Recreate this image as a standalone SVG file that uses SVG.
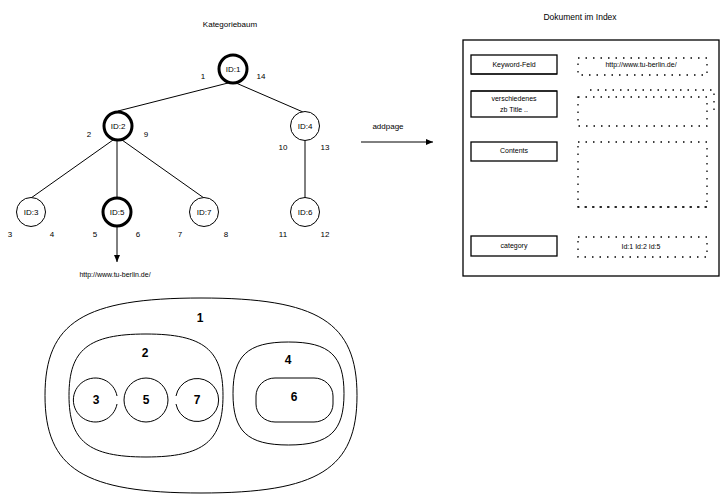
<svg xmlns="http://www.w3.org/2000/svg" width="723" height="497" viewBox="0 0 723 497">
<style>
text{font-family:"Liberation Sans",Arial,sans-serif;fill:#000}
.s{font-size:8px}
.t{font-size:7px}
.n{font-size:12px;font-weight:bold}
.thin{fill:#fff;stroke:#000;stroke-width:1}
.thick{fill:#fff;stroke:#000;stroke-width:3}
.line{stroke:#000;stroke-width:1;fill:none}
.dot{fill:none;stroke:#000;stroke-width:1.3;stroke-dasharray:1.5 6}
.box{fill:#fff;stroke:#000;stroke-width:1.3}
.shape{fill:none;stroke:#000;stroke-width:1}
</style>
<defs>
<marker id="ah" markerWidth="8" markerHeight="8" refX="7" refY="4" orient="auto" markerUnits="userSpaceOnUse">
<path d="M0,1 L7,4 L0,7 Z" fill="#000"/>
</marker>
</defs>
<rect width="723" height="497" fill="#fff"/>

<text class="s" x="230" y="27" text-anchor="middle">Kategoriebaum</text>

<g id="connectors">
<line class="line" x1="228" y1="83" x2="118" y2="111"/>
<line class="line" x1="236" y1="83" x2="303" y2="112"/>
<line class="line" x1="113" y1="140" x2="31" y2="198"/>
<line class="line" x1="117" y1="141" x2="117" y2="198" stroke-width="2"/>
<line class="line" x1="122" y1="140" x2="204" y2="198"/>
<line class="line" x1="305" y1="141" x2="305" y2="198"/>
<line class="line" x1="117" y1="227" x2="117" y2="262" stroke-width="1.5" marker-end="url(#ah)"/>
<line class="line" x1="361" y1="142" x2="433" y2="142" stroke-width="1.3" marker-end="url(#ah)"/>
</g>

<g id="n1"><circle class="thick" cx="233" cy="69" r="14"/><text class="s" x="233" y="72" text-anchor="middle">ID:1</text>
<text class="s" x="203" y="79" text-anchor="middle">1</text><text class="s" x="261" y="79" text-anchor="middle">14</text></g>
<g id="n2"><circle class="thick" cx="118" cy="126" r="14"/><text class="s" x="118" y="129" text-anchor="middle">ID:2</text>
<text class="s" x="89" y="137" text-anchor="middle">2</text><text class="s" x="146" y="137" text-anchor="middle">9</text></g>
<g id="n4"><circle class="thin" cx="305" cy="126" r="14.5"/><text class="s" x="305" y="129" text-anchor="middle">ID:4</text>
<text class="s" x="283" y="150" text-anchor="middle">10</text><text class="s" x="325" y="150" text-anchor="middle">13</text></g>
<g id="n3"><circle class="thin" cx="31" cy="212" r="14.5"/><text class="s" x="31" y="215" text-anchor="middle">ID:3</text>
<text class="s" x="10" y="237" text-anchor="middle">3</text><text class="s" x="52" y="237" text-anchor="middle">4</text></g>
<g id="n5"><circle class="thick" cx="117" cy="212" r="14"/><text class="s" x="117" y="215" text-anchor="middle">ID:5</text>
<text class="s" x="95" y="237" text-anchor="middle">5</text><text class="s" x="138" y="237" text-anchor="middle">6</text></g>
<g id="n7"><circle class="thin" cx="204" cy="212" r="14.5"/><text class="s" x="204" y="215" text-anchor="middle">ID:7</text>
<text class="s" x="180" y="237" text-anchor="middle">7</text><text class="s" x="226" y="237" text-anchor="middle">8</text></g>
<g id="n6"><circle class="thin" cx="305" cy="212" r="14.5"/><text class="s" x="305" y="215" text-anchor="middle">ID:6</text>
<text class="s" x="283" y="237" text-anchor="middle">11</text><text class="s" x="325" y="237" text-anchor="middle">12</text></g>
<text class="t" x="115" y="277" text-anchor="middle">http://www.tu-berlin.de/</text>

<text class="s" x="388" y="129" text-anchor="middle">addpage</text>

<g id="index">
<text class="s" x="580" y="20" text-anchor="middle" style="font-size:8.5px">Dokument im Index</text>
<rect class="box" x="463" y="40" width="256" height="236"/>
<g id="keyword"><rect class="box" x="471" y="55" width="86" height="19"/><line class="line" x1="471" y1="74" x2="557" y2="74" stroke-width="2"/>
<text class="t" x="514" y="67" text-anchor="middle">Keyword-Feld</text></g>
<g id="keywordval"><rect class="dot" x="578" y="58" width="129" height="17"/>
<text class="t" x="641" y="67" text-anchor="middle">http://www.tu-berlin.de/</text></g>
<g id="verschieden"><rect class="box" x="471" y="91" width="86" height="26"/><line class="line" x1="471" y1="91" x2="557" y2="91" stroke-width="2"/>
<text class="t" x="514" y="101" text-anchor="middle">verschiedenes</text>
<text class="t" x="514" y="112" text-anchor="middle">zb Title ..</text></g>
<g id="verschiedenval"><path class="dot" d="M590,90 L714,90 L714,116"/><rect class="dot" x="578" y="97" width="129" height="29"/></g>
<g id="contents"><rect class="box" x="471" y="142" width="86" height="19"/>
<text class="t" x="514" y="153" text-anchor="middle">Contents</text></g>
<g id="contentsval"><rect class="dot" x="578" y="142" width="129" height="65"/>
<line class="dot" x1="578" y1="207" x2="707" y2="207" stroke-width="2" stroke-dasharray="3 4"/></g>
<g id="category"><rect class="box" x="471" y="236" width="86" height="20"/>
<text class="t" x="514" y="248" text-anchor="middle">category</text></g>
<g id="categoryval"><rect class="dot" x="578" y="237" width="129" height="20"/>
<text class="t" x="641" y="249" text-anchor="middle">Id:1 Id:2 Id:5</text></g>
</g>

<g id="sets">
<g id="s1"><path class="shape" d="M201,298 C318,298 357,322 357,395.5 C357,469 318,493 201,493 C84,493 45,469 45,395.5 C45,322 84,298 201,298 Z"/><text class="n" x="200" y="322" text-anchor="middle">1</text></g>
<g id="s2"><path class="shape" d="M146,334 C204,334 223,350 223,395.5 C223,441 204,457 146,457 C88,457 69,441 69,395.5 C69,350 88,334 146,334 Z"/><text class="n" x="145" y="357" text-anchor="middle">2</text></g>
<g id="s4"><path class="shape" d="M288.5,342 C330,342 344,356 344,393.5 C344,431 330,445 288.5,445 C247,445 233,431 233,393.5 C233,356 247,342 288.5,342 Z"/><text class="n" x="288" y="364" text-anchor="middle">4</text></g>
<g id="s3"><path class="shape" d="M117,404 A22,22 0 1 1 117,396"/><text class="n" x="96" y="404" text-anchor="middle">3</text></g>
<g id="s5"><circle class="shape" cx="146" cy="400" r="22"/><text class="n" x="146" y="404" text-anchor="middle">5</text></g>
<g id="s7"><path class="shape" d="M176,396 A21.5,21.5 0 1 1 176,404"/><text class="n" x="197" y="404" text-anchor="middle">7</text></g>
<g id="s6"><rect class="shape" x="256" y="378" width="77" height="44" rx="19" ry="18"/><text class="n" x="294" y="401" text-anchor="middle">6</text></g>
</g>
</svg>
